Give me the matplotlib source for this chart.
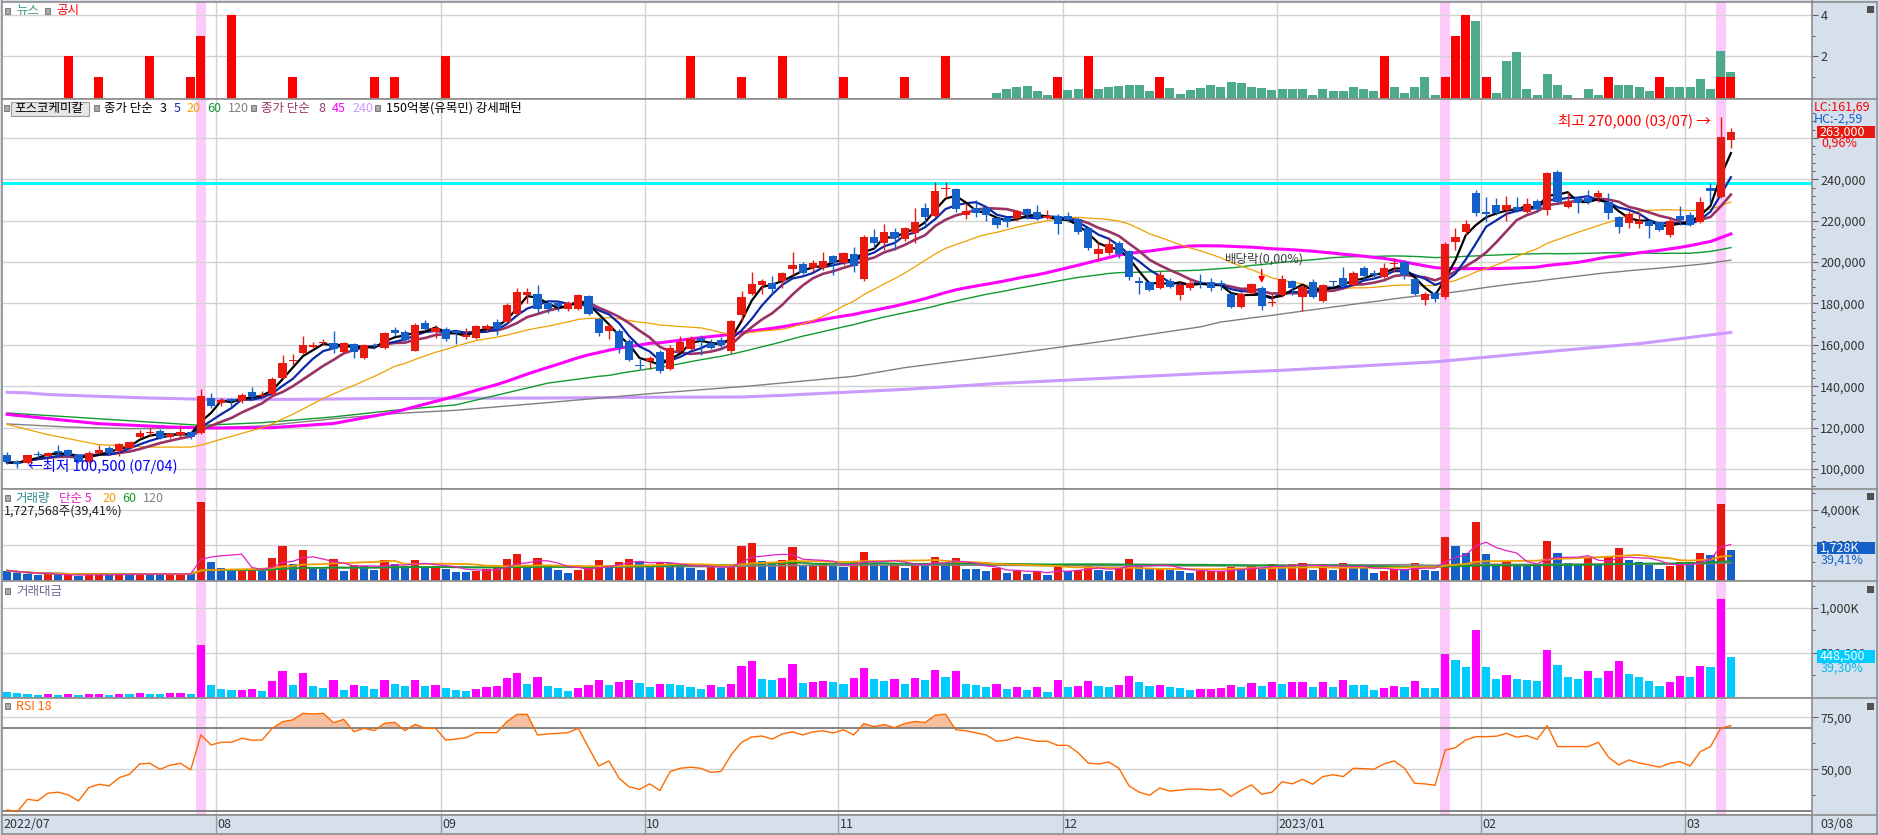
#!/usr/bin/env python3
import numpy as np
import pandas as pd
import matplotlib
matplotlib.use("Agg")
import matplotlib.pyplot as plt
from matplotlib.lines import Line2D
from matplotlib.patches import Rectangle
from matplotlib.ticker import FixedLocator, FuncFormatter

plt.rcParams["font.family"] = ["Noto Sans CJK KR", "DejaVu Sans"]

# ---- Daily candles 2022/07/01 .. 2023/03/08 (thousand won) ----
opens = [
    107.0, 103.5, 103.0, 107.5, 106.2, 108.6, 109.1, 106.6, 103.3, 107.8,
    110.3, 108.6, 110.3, 115.4, 117.5, 118.6, 115.4, 116.4, 118.0, 117.5,
    134.3, 131.7, 133.8, 132.8, 137.2, 135.1, 136.1, 144.1, 152.3, 155.9,
    159.1, 160.7, 161.0, 156.5, 160.6, 153.5, 160.0, 158.3, 167.0, 166.4,
    157.0, 170.7, 166.4, 167.9, 166.6, 163.7, 163.4, 167.9, 171.1, 171.1,
    174.8, 184.0, 184.4, 180.0, 180.2, 177.3, 177.3, 183.5, 172.3, 166.6,
    166.9, 162.1, 150.2, 152.2, 156.6, 148.2, 156.9, 158.2, 163.4, 161.1,
    162.3, 156.9, 174.4, 184.8, 188.9, 189.7, 190.8, 196.6, 198.9, 196.9,
    196.9, 203.1, 199.4, 203.7, 191.8, 211.9, 209.2, 214.7, 211.2, 213.9,
    226.0, 222.4, 235.5, 235.2, 222.7, 226.3, 226.0, 221.1, 221.1, 221.5,
    225.5, 224.0, 221.5, 222.3, 222.3, 220.8, 216.3, 203.9, 204.5, 209.4,
    205.3, 191.0, 190.5, 187.6, 191.0, 184.0, 187.3, 190.5, 190.5, 189.7,
    184.4, 178.4, 185.3, 187.3, 180.0, 184.0, 191.0, 183.2, 190.5, 181.1,
    190.8, 192.4, 189.0, 197.2, 194.5, 193.0, 199.2, 200.2, 191.6, 181.6,
    185.3, 182.9, 209.8, 214.7, 233.2, 224.4, 227.6, 225.2, 226.8, 224.4,
    229.5, 225.2, 243.7, 226.8, 231.1, 231.1, 231.3, 228.9, 221.6, 219.0,
    218.2, 220.0, 219.2, 213.1, 222.4, 222.7, 219.5, 235.6, 231.3, 259.0,
]
highs = [
    108.2, 104.6, 107.0, 108.5, 108.3, 111.5, 109.5, 107.5, 108.5, 111.5,
    111.0, 112.5, 113.5, 119.1, 120.0, 119.5, 117.5, 121.5, 118.5, 138.5,
    136.5, 134.5, 134.5, 136.5, 139.8, 137.5, 144.5, 155.0, 155.4, 164.3,
    161.5, 162.7, 166.7, 161.5, 161.0, 160.5, 160.8, 166.0, 168.8, 167.0,
    170.7, 172.0, 169.5, 168.5, 167.0, 168.2, 169.5, 170.0, 172.7, 180.0,
    187.3, 187.3, 188.9, 181.9, 180.8, 181.0, 184.5, 184.0, 173.0, 170.0,
    167.5, 163.0, 153.4, 154.5, 157.5, 159.8, 164.2, 164.2, 164.7, 163.0,
    163.9, 172.0, 186.0, 195.0, 192.0, 193.4, 195.0, 205.0, 200.2, 201.0,
    204.7, 203.5, 205.0, 207.4, 213.0, 215.8, 218.2, 216.3, 217.0, 226.0,
    228.4, 238.9, 238.9, 236.0, 228.4, 230.0, 227.0, 222.0, 222.0, 225.0,
    226.3, 227.6, 225.2, 223.0, 224.0, 221.5, 217.0, 209.5, 212.3, 210.0,
    206.0, 192.9, 191.0, 195.5, 192.4, 190.5, 191.3, 194.0, 192.4, 191.3,
    185.0, 185.5, 190.0, 188.5, 184.8, 193.7, 191.5, 189.0, 192.0, 189.5,
    191.0, 197.7, 195.5, 198.0, 196.0, 199.5, 201.8, 201.0, 192.5, 185.5,
    186.0, 209.5, 216.6, 220.3, 234.8, 231.6, 230.8, 232.1, 231.3, 231.1,
    230.3, 243.5, 244.5, 234.0, 231.8, 234.8, 234.8, 233.2, 222.5, 224.7,
    224.4, 220.8, 219.8, 220.8, 227.3, 224.4, 231.6, 238.1, 270.0, 265.0,
]
lows = [
    102.2, 100.5, 102.5, 105.5, 105.8, 106.2, 106.0, 102.8, 103.0, 107.5,
    107.0, 106.2, 109.8, 115.0, 116.0, 114.5, 115.0, 115.1, 114.5, 116.7,
    129.5, 130.5, 130.0, 132.0, 134.0, 134.8, 135.5, 143.5, 150.5, 155.5,
    158.5, 160.0, 156.2, 156.0, 153.8, 153.0, 157.8, 158.0, 164.3, 161.8,
    156.8, 167.0, 163.5, 161.8, 160.6, 163.0, 163.0, 166.3, 164.7, 170.5,
    174.0, 180.0, 175.2, 175.6, 176.3, 176.5, 176.8, 174.2, 164.3, 162.7,
    156.3, 152.0, 148.2, 148.5, 146.5, 147.8, 156.5, 157.5, 155.3, 158.0,
    158.2, 156.3, 171.4, 184.0, 184.4, 184.8, 187.3, 193.7, 194.0, 195.3,
    196.0, 193.7, 198.8, 195.0, 191.0, 206.9, 205.8, 205.8, 210.0, 209.0,
    217.9, 222.0, 231.1, 224.3, 220.8, 221.9, 219.8, 216.3, 217.1, 220.0,
    220.8, 220.3, 221.0, 213.4, 219.5, 213.4, 206.0, 200.5, 203.4, 201.8,
    191.3, 184.5, 186.0, 186.8, 187.5, 181.6, 186.4, 187.3, 186.0, 186.4,
    177.8, 177.9, 184.5, 176.8, 179.0, 183.0, 184.0, 176.3, 182.5, 180.5,
    188.5, 188.0, 188.5, 192.0, 193.0, 192.5, 195.3, 192.0, 184.0, 179.2,
    180.5, 182.0, 205.8, 213.0, 222.4, 219.5, 222.7, 219.9, 224.4, 223.6,
    224.7, 222.7, 228.5, 226.0, 223.6, 228.0, 229.2, 220.8, 213.9, 216.6,
    216.3, 211.5, 215.0, 212.3, 217.9, 217.5, 219.0, 229.2, 231.0, 255.0,
]
closes = [
    103.3, 102.5, 106.6, 107.0, 107.8, 107.8, 106.6, 103.3, 107.8, 109.3,
    107.8, 111.9, 113.0, 117.5, 118.0, 115.1, 117.0, 118.0, 115.4, 135.3,
    130.7, 133.3, 132.8, 135.9, 134.8, 135.9, 143.3, 151.0, 152.7, 159.9,
    159.9, 161.5, 157.8, 161.0, 156.5, 159.8, 159.5, 165.6, 165.9, 162.3,
    169.4, 167.8, 168.0, 162.7, 165.8, 164.7, 169.2, 169.2, 167.9, 179.5,
    185.6, 185.6, 177.3, 177.3, 178.9, 180.0, 183.9, 174.8, 165.8, 169.2,
    158.5, 152.6, 150.0, 153.8, 147.3, 158.5, 161.4, 162.7, 161.8, 158.5,
    159.8, 171.4, 183.2, 189.5, 191.1, 186.8, 194.5, 198.5, 194.5, 199.4,
    200.5, 199.4, 204.2, 198.2, 212.3, 209.0, 214.7, 211.8, 216.6, 219.5,
    221.6, 234.4, 236.0, 225.6, 224.7, 223.9, 222.7, 217.9, 219.5, 224.7,
    222.7, 221.1, 222.3, 218.4, 220.3, 214.7, 206.6, 206.1, 208.7, 203.7,
    192.9, 189.7, 186.4, 193.7, 188.1, 188.9, 189.7, 189.9, 187.6, 189.0,
    178.4, 184.8, 189.2, 178.9, 180.5, 191.6, 187.6, 188.1, 183.2, 188.9,
    190.2, 188.5, 194.5, 193.2, 193.8, 197.3, 199.6, 193.7, 184.5, 184.8,
    182.4, 208.7, 211.9, 218.2, 223.6, 223.1, 223.9, 227.6, 225.2, 228.1,
    225.5, 242.9, 229.2, 229.2, 228.7, 229.2, 233.2, 223.6, 217.1, 223.1,
    219.8, 217.4, 215.5, 220.0, 220.3, 217.9, 229.2, 234.4, 260.6, 263.0,
]
# volume, thousand shares
volumes = [
    520, 400, 330, 260, 300, 250, 280, 240, 300, 330,
    250, 330, 320, 360, 330, 300, 340, 360, 330, 4460,
    1030, 680, 560, 600, 640, 485, 1260, 1960, 910, 1690,
    740, 620, 1200, 520, 830, 800, 580, 1145, 910, 760,
    1145, 720, 775, 640, 445, 430, 525, 640, 760, 1200,
    1455, 775, 1260, 720, 580, 390, 580, 740, 1145, 815,
    1030, 1200, 1065, 720, 970, 930, 815, 680, 580, 815,
    680, 910, 1940, 2130, 1065, 1030, 1105, 1880, 815, 870,
    880, 830, 720, 1065, 1610, 970, 870, 970, 680, 970,
    870, 1320, 970, 1260, 640, 600, 485, 680, 390, 525,
    330, 485, 250, 870, 485, 580, 830, 580, 525, 680,
    1200, 910, 680, 700, 580, 525, 390, 485, 500, 510,
    720, 640, 830, 680, 910, 760, 910, 930, 580, 910,
    580, 970, 720, 680, 390, 525, 640, 600, 970, 580,
    525, 2427, 1953, 1555, 3318, 1498, 872, 1100, 872, 860,
    815, 2237, 1555, 986, 872, 1251, 929, 1289, 1839, 1157,
    1043, 853, 588, 777, 1043, 1030, 1555, 1441, 4342, 1727.6,
]

# long moving averages before their window fills (thousand won)
ma20_head_idx = [0, 4, 9, 14, 18]
ma20_head_val = [121.6, 116.6, 111.8, 110.6, 110.6]
ma45_head_idx = [0, 9, 16, 20, 26, 32, 38, 43]
ma45_head_val = [126.4, 121.9, 120.3, 119.8, 120.0, 122.0, 127.5, 134.0]
ma60_head_idx = [0, 9, 19, 25, 32, 38, 44, 53, 58]
ma60_head_val = [127.1, 124.3, 121.1, 122.4, 125.2, 128.4, 131.0, 141.5, 144.8]
ma120_head_idx = [0, 6, 12, 19, 25, 32, 38, 44, 53, 63, 73, 83, 88, 97, 107, 117]
ma120_head_val = [121.8, 120.3, 119.5, 119.8, 120.8, 124.3, 126.8, 128.4, 132.1,
                  136.4, 140.2, 144.8, 149.0, 154.7, 161.4, 168.7]
ma240_idx = [0, 2, 4, 8, 11, 14, 17, 19, 29, 35, 44, 53, 63, 72, 76, 88, 97,
             107, 117, 125, 132, 140, 150, 160, 169]
ma240_val = [137.1, 136.8, 136.0, 135.3, 134.8, 134.3, 134.0, 133.7, 133.7, 134.0,
             134.2, 134.3, 134.7, 134.8, 135.6, 138.5, 141.3, 143.7, 146.1, 147.7,
             149.6, 151.8, 156.3, 160.6, 166.0]

# RSI 18
rsi_idx = list(range(0, 170))
rsi_val = [
    30.5, 29.6, 35.6, 34.9, 38.5, 39.0, 37.7, 34.8, 41.2, 42.8,
    42.0, 46.0, 47.6, 52.6, 52.9, 50.0, 52.0, 52.9, 49.7, 66.5,
    61.7, 63.0, 63.0, 64.9, 64.0, 64.1, 69.7, 72.9, 73.7, 76.9,
    76.6, 76.9, 72.4, 74.0, 68.1, 69.7, 68.6, 72.1, 72.6, 68.6,
    71.6, 69.7, 69.7, 64.1, 64.5, 65.2, 67.6, 67.6, 67.6, 72.9,
    76.4, 76.4, 66.5, 67.0, 67.3, 67.6, 69.7, 60.5, 51.6, 54.0,
    45.7, 41.5, 40.4, 43.0, 39.8, 48.9, 50.5, 51.0, 50.5, 48.5,
    49.0, 57.0, 63.0, 65.5, 66.0, 64.5, 67.0, 68.0, 66.5, 68.0,
    68.5, 67.5, 69.0, 66.5, 72.0, 70.5, 71.5, 70.0, 72.0, 73.0,
    72.5, 76.0, 76.5, 69.0, 68.5, 67.5, 66.5, 63.5, 64.0, 65.5,
    64.5, 63.5, 63.5, 61.5, 61.5, 58.0, 53.0, 52.5, 53.5, 50.5,
    42.0, 39.0, 37.5, 41.0, 39.5, 40.0, 40.5, 40.5, 40.0, 40.5,
    37.0, 40.0, 42.5, 38.0, 39.0, 44.0, 43.0, 45.2, 42.8, 46.5,
    47.4, 46.5, 50.5, 50.3, 50.0, 52.6, 54.0, 50.5, 43.3, 43.0,
    42.3, 59.3, 60.4, 64.1, 65.7, 65.7, 65.9, 67.3, 65.4, 66.2,
    64.4, 71.0, 60.9, 60.9, 60.9, 60.9, 63.0, 55.8, 52.1, 54.5,
    53.0, 52.1, 51.0, 52.9, 53.7, 51.6, 58.5, 60.9, 69.7, 71.0,
]

# news / disclosure counts
disc_idx = [6, 9, 14, 18, 19, 22, 28, 36, 38, 43, 67, 72, 76, 82, 88, 92, 103, 106,
            113, 135, 141, 142, 143, 145, 157, 162, 168, 169]
disc_val = [2, 1, 2, 1, 3, 4, 1, 1, 1, 2, 2, 1, 2, 1, 1, 2, 1, 2,
            1, 2, 1, 3, 4, 1, 1, 1, 1, 1]
news_idx = [97, 98, 99, 100, 101, 102, 104, 105, 107, 108, 109, 110, 111, 112, 114,
            115, 116, 117, 118, 119, 120, 121, 122, 123, 124, 125, 126, 127, 128, 129,
            130, 131, 132, 133, 134, 136, 137, 138, 139, 140, 144, 146, 147, 148, 149,
            150, 151, 152, 153, 155, 156, 158, 159, 160, 161, 163, 164, 165, 166, 167,
            168, 169]
news_val = [0.25, 0.4, 0.5, 0.55, 0.3, 0.15, 0.35, 0.4, 0.4, 0.5, 0.55, 0.6, 0.6, 0.3,
            0.45, 0.2, 0.35, 0.45, 0.6, 0.5, 0.75, 0.7, 0.5, 0.45, 0.35, 0.4, 0.4, 0.42,
            0.13, 0.42, 0.32, 0.32, 0.51, 0.42, 0.32, 0.51, 0.22, 0.51, 0.99, 0.13, 3.7,
            0.22, 1.8, 2.2, 0.42, 0.13, 1.14, 0.61, 0.13, 0.42, 0.13, 0.61, 0.61, 0.51,
            0.32, 0.51, 0.51, 0.51, 0.9, 0.42, 2.29, 1.25]

month_first = [21, 43, 63, 82, 104, 125, 145, 165]
month_labels = ["08", "09", "10", "11", "12", "2023/01", "02", "03"]
highlight_idx = [19, 141, 168]

# ---- colours ----
RED = "#E8190F"
BLUE = "#1560C8"
GRID = "#D2D2D2"
PANEL_LINE = "#8C8C8C"
AXIS_BG = "#D6E0EC"
PINK = "#FDCBFA"

W, H = 1879, 835
X0, X1 = 2, 1812
XLIM = (-0.5, (X1 - 7.1) / 10.2)

o = np.array(opens) * 1000
hi = np.array(highs) * 1000
lo = np.array(lows) * 1000
c = np.array(closes) * 1000
vol = np.array(volumes, dtype=float)
idx = np.arange(len(c))
bounds = [m - 0.5 for m in month_first]

fig = plt.figure(figsize=(W / 100, H / 100), dpi=100)
fig.patch.set_facecolor(AXIS_BG)


def px_axes(top, bottom):
    return fig.add_axes([X0 / W, 1 - bottom / H, (X1 - X0) / W, (bottom - top) / H])


def ftext(x, y, s, **kw):
    kw.setdefault("fontsize", 9)
    kw.setdefault("va", "center")
    return fig.text(x / W, 1 - y / H, s, **kw)


def fbox(x0, y0, x1, y1, **kw):
    fig.add_artist(Rectangle((x0 / W, 1 - y1 / H), (x1 - x0) / W, (y1 - y0) / H,
                             transform=fig.transFigure, **kw))


def fline(x0, y0, x1, y1, **kw):
    fig.add_artist(Line2D([x0 / W, x1 / W], [1 - y0 / H, 1 - y1 / H],
                          transform=fig.transFigure, **kw))


def square(x, y):
    fbox(x, y, x + 5, y + 6, facecolor="#A8A8A8", edgecolor="#6A6A6A", lw=0.6)


def style(ax, ticks, fmt, minor=None):
    ax.set_xlim(XLIM)
    ax.set_facecolor("white")
    for s in ax.spines.values():
        s.set_color(PANEL_LINE)
        s.set_linewidth(1.2)
    ax.set_xticks([])
    ax.yaxis.tick_right()
    ax.yaxis.set_major_locator(FixedLocator(ticks))
    ax.yaxis.set_major_formatter(FuncFormatter(fmt))
    if minor is not None:
        ax.yaxis.set_minor_locator(FixedLocator(minor))
    ax.tick_params(axis="y", which="major", direction="out", length=4, width=0.8,
                   color="#606060", labelsize=9, labelcolor="#333333", pad=2)
    ax.tick_params(axis="y", which="minor", direction="out", length=2.5, width=0.8,
                   color="#606060")
    ax.set_axisbelow(True)
    ax.grid(axis="y", which="major", color=GRID, lw=1)
    for b in bounds:
        ax.axvline(b, color=GRID, lw=1, zorder=0.6)
    for p in highlight_idx:
        ax.axvspan(p - 0.5, p + 0.5, color=PINK, lw=0, zorder=0.3)


# ---- news / disclosure panel ----
ax_n = px_axes(1.5, 99.3)
style(ax_n, [2, 4], lambda v, p: f"{v:.0f}", minor=[1, 3])
ax_n.set_ylim(-0.08, 4.67)
ax_n.bar(news_idx, news_val, width=0.9, color="#4DAA8A", lw=0, zorder=2)
ax_n.bar(disc_idx, disc_val, width=0.9, color="#FF0000", lw=0, zorder=3)
square(5, 8)
ftext(16, 10.5, "뉴스", color="#3E9E86")
square(45, 8)
ftext(56, 10.5, "공시", color="#FF0000")

# ---- price panel ----
ax_p = px_axes(99.3, 489.3)
price_ticks = list(range(100000, 260001, 20000))
style(ax_p, price_ticks, lambda v, p: "" if v > 250000 else f"{v:,.0f}",
      minor=list(range(92000, 276000, 4000)))
ax_p.set_ylim(90208, 278656)

cl = pd.Series(c)


def ma_long(n, head_idx, head_val):
    full = cl.rolling(n).mean().values
    xs = list(head_idx) + list(idx[n - 1:])
    ys = list(np.array(head_val) * 1000) + list(full[n - 1:])
    return xs, ys


ax_p.axhline(238300, color="#00FFFF", lw=2.2, zorder=2)
ax_p.plot(ma240_idx, np.array(ma240_val) * 1000, color="#CC99FF", lw=2.2, zorder=2)
ax_p.plot(*ma_long(120, ma120_head_idx, ma120_head_val), color="#808080", lw=1.0, zorder=2)
ax_p.plot(*ma_long(60, ma60_head_idx, ma60_head_val), color="#109A30", lw=1.0, zorder=2)
ax_p.plot(*ma_long(45, ma45_head_idx, ma45_head_val), color="#FF00FF", lw=2.2, zorder=2)
ax_p.plot(*ma_long(20, ma20_head_idx, ma20_head_val), color="#F0A000", lw=0.9, zorder=2)
ax_p.plot(idx, cl.rolling(8, min_periods=1).mean(), color="#993366", lw=1.9, zorder=2.2)
ax_p.plot(idx, cl.rolling(5, min_periods=1).mean(), color="#0A28A8", lw=1.6, zorder=2.3)
ax_p.plot(idx, cl.rolling(3, min_periods=1).mean(), color="black", lw=1.6, zorder=2.4)

up = c >= o
ccol = np.where(up, RED, BLUE)
ax_p.vlines(idx, lo, hi, colors=ccol, lw=1.0, zorder=3)
body_h = np.maximum(np.abs(c - o), 500)
ax_p.bar(idx, body_h, bottom=np.minimum(o, c), width=0.8, color=ccol, lw=0, zorder=3.5)

ax_p.annotate("", xy=(123, 188500), xytext=(123, 197800),
              arrowprops=dict(arrowstyle="-|>", color="red", lw=1, mutation_scale=9),
              zorder=5)

square(4, 105)
fbox(11, 101.5, 89, 115.5, facecolor="#E6E6E6", edgecolor="#9A9A9A", lw=0.8)
ftext(14, 108.5, "포스코케미칼", color="black")
square(94, 105)
ftext(104, 108.5, "종가 단순", color="black")
ftext(160, 108.5, "3", color="black")
ftext(174, 108.5, "5", color="#0A28A8")
ftext(186, 108.5, "20", color="#F0A000")
ftext(207, 108.5, "60", color="#109A30")
ftext(228, 108.5, "120", color="#808080")
square(251, 105)
ftext(261, 108.5, "종가 단순", color="#993366")
ftext(318, 108.5, "8", color="#993366")
ftext(332, 108.5, "45", color="#FF00FF")
ftext(352, 108.5, "240", color="#CC99FF")
square(375, 105)
ftext(386, 108.5, "150억봉(유목민) 강세패턴", color="black")

ftext(1558, 121.5, "최고 270,000 (03/07) →", color="#FF0000", fontsize=10.5)
ftext(28, 466, "←최저 100,500 (07/04)", color="#0000FF", fontsize=10.5)
ftext(1225, 259, "배당락(0,00%)", color="#404040")

ftext(1814, 106.7, "LC:161,69", color="#FF0000")
ftext(1814, 119.3, "HC:-2,59", color=BLUE)
fbox(1816.7, 126, 1875, 138.3, facecolor=RED, lw=0)
ftext(1819, 132, "263,000", color="white")
ftext(1821, 143.5, "0,96%", color="#FF0000")

# ---- volume panel ----
ax_v = px_axes(489.3, 581.3)
style(ax_v, [2000, 4000], lambda v, p: f"{v:,.0f}K", minor=[1000, 3000, 5000])
ax_v.set_ylim(-92, 5188)
vup = np.r_[False, vol[1:] > vol[:-1]]
ax_v.bar(idx, vol, width=0.82, color=np.where(vup, RED, BLUE), lw=0, zorder=2)
vs = pd.Series(vol)
ax_v.plot(idx, vs.rolling(120, min_periods=1).mean(), color="#808080", lw=1.3, zorder=3)
ax_v.plot(idx, vs.rolling(60, min_periods=1).mean(), color="#109A30", lw=1.3, zorder=3)
ax_v.plot(idx, vs.rolling(20, min_periods=1).mean(), color="#F0A000", lw=1.3, zorder=3)
ax_v.plot(idx, vs.rolling(5, min_periods=1).mean(), color="#E020C0", lw=0.9, zorder=3)
square(5, 495)
ftext(15, 498.3, "거래량", color="#2E8B8B")
ftext(59, 498.3, "단순 5", color="#E020C0")
ftext(102, 498.3, "20", color="#F0A000")
ftext(122, 498.3, "60", color="#109A30")
ftext(143, 498.3, "120", color="#808080")
ftext(4, 511, "1,727,568주(39,41%)", color="#222222")
fbox(1817, 541.7, 1875, 554.3, facecolor=BLUE, lw=0)
ftext(1820, 548, "1,728K", color="white")
ftext(1821, 560.3, "39,41%", color=BLUE)

# ---- trading value panel (million won = thousand shares x thousand won) ----
ax_t = px_axes(581.3, 698.3)
style(ax_t, [500, 1000],
      lambda v, p: f"{v:,.0f}K" if v >= 1000 else f"{v * 1000:,.0f}",
      minor=[250, 750, 1250])
ax_t.set_ylim(-14.6, 1300)
tv = vol * (hi + lo + c) / 3 / 1e6
tup = np.r_[False, tv[1:] > tv[:-1]]
ax_t.bar(idx, tv, width=0.82, color=np.where(tup, "#FF00FF", "#00CCFF"), lw=0, zorder=2)
square(5, 588)
ftext(16, 591, "거래대금", color="#6A6A9A")
fbox(1817, 650, 1875, 662.7, facecolor="#00CCFF", lw=0)
ftext(1820, 656.3, "448,500", color="white")
ftext(1821, 668.3, "39,30%", color="#00B8F0")

# ---- RSI panel ----
ax_r = px_axes(698.3, 815)
style(ax_r, [50, 75], lambda v, p: f"{v:.2f}".replace(".", ","),
      minor=[37.5, 62.5])
ax_r.set_ylim(28.03, 84.13)
rv = np.array(rsi_val)
ax_r.fill_between(rsi_idx, rv, 70, where=rv > 70, interpolate=True,
                  color="#F5C0A0", lw=0, zorder=2)
ax_r.axhline(70, color="#7A7A7A", lw=1.3, zorder=2.5)
ax_r.axhline(30, color="#7A7A7A", lw=1.3, zorder=2.5)
ax_r.plot(rsi_idx, rv, color="#FF6A00", lw=1.0, zorder=3)
square(5, 703)
ftext(16, 706.7, "RSI 18", color="#FF6600")

# ---- date axis ----
ax_d = px_axes(815, 834)
ax_d.set_xlim(XLIM)
ax_d.set_ylim(0, 1)
ax_d.set_facecolor(AXIS_BG)
ax_d.set_xticks([])
ax_d.set_yticks([])
for s in ax_d.spines.values():
    s.set_color(PANEL_LINE)
    s.set_linewidth(1.2)
for b, lab in zip(bounds, month_labels):
    ax_d.axvline(b, color="#9A9A9A", lw=1)
    ax_d.text(b + 0.15, 0.5, lab, fontsize=9, va="center", color="#333333")
ax_d.text(-0.35, 0.5, "2022/07", fontsize=9, va="center", color="#333333")
ftext(1820, 824.5, "03/08", color="#333333")

# ---- frame lines across the right axis strip ----
for y in [1.5, 99.3, 489.3, 581.3, 698.3, 815, 834]:
    fline(X1, y, 1877, y, color=PANEL_LINE, lw=1.2)
fline(1877, 1.5, 1877, 834, color=PANEL_LINE, lw=1.2)
for y in [6, 493, 586, 703]:
    fbox(1867, y, 1874, y + 7, facecolor="#505050", lw=0)

fig.savefig("out.png", dpi=100, facecolor=fig.get_facecolor())
